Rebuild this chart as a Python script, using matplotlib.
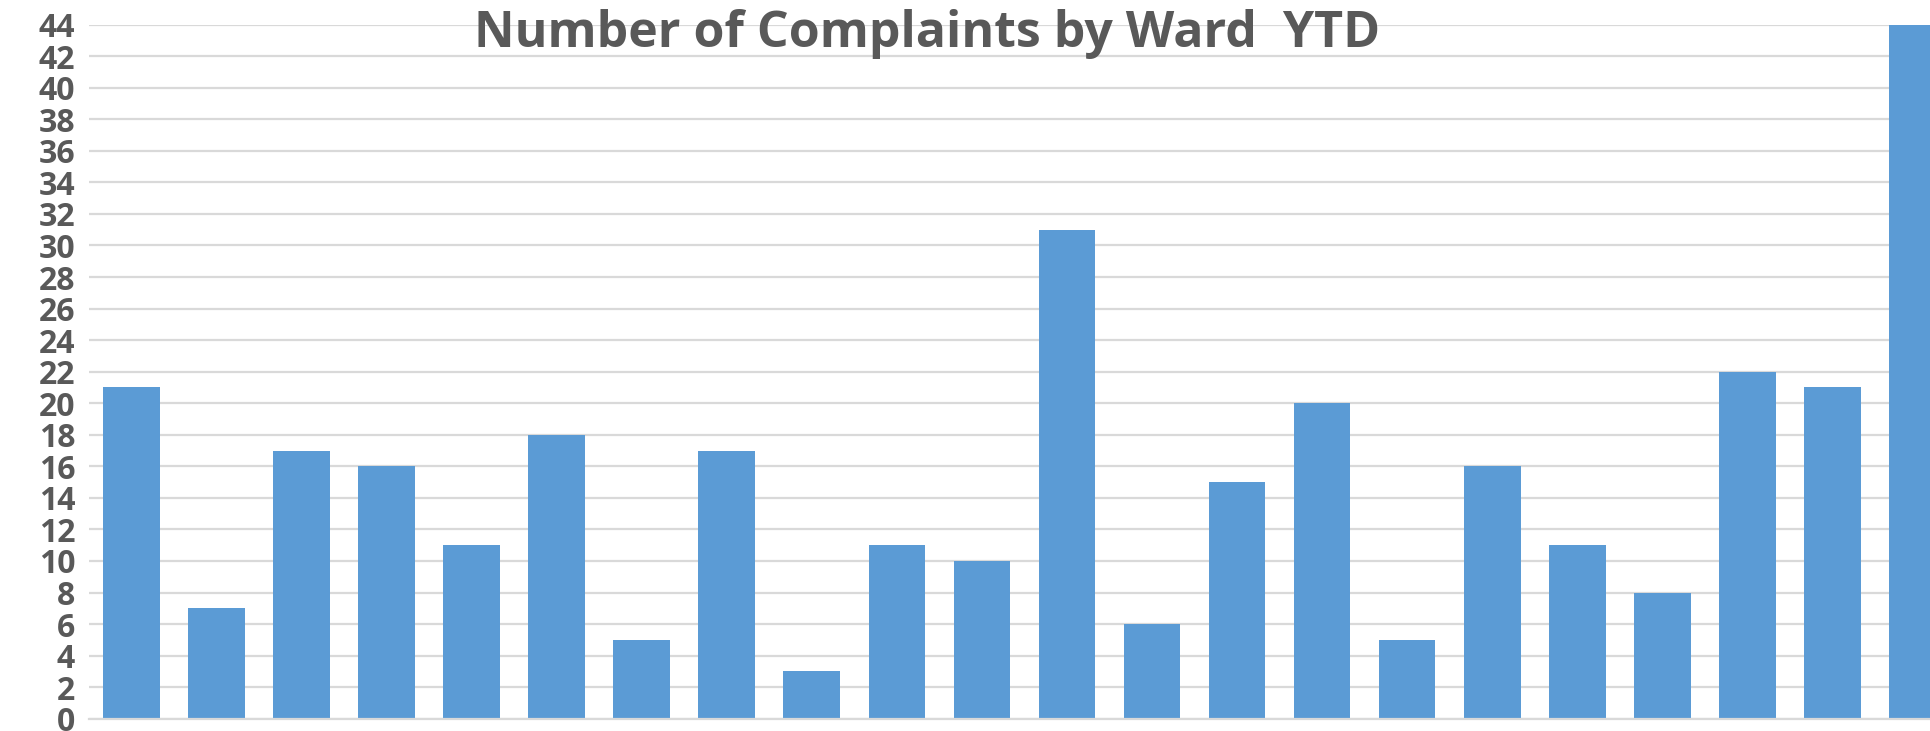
import matplotlib.pyplot as plt
import numpy as np

# Datos: quejas por sala (YTD)
wards = [f'Ward {i}' for i in range(1, 23)]
complaints = [21, 7, 17, 16, 11, 18, 5, 17, 3, 11, 10, 31, 6, 15, 20, 5, 16, 11, 8, 22, 21, 44]
y_ticks = list(range(0, 45, 2))

text_color = '#595959'
bar_color = '#5B9BD5'
grid_color = '#D9D9D9'

fig = plt.figure(figsize=(19.30, 7.31), dpi=100)
# el gráfico original está recortado a la derecha, por eso el eje sale del lienzo
ax = fig.add_axes([0.0461, 0.0168, 0.9694, 0.9495])

x = np.arange(len(wards))
ax.bar(x, complaints, width=0.667, color=bar_color, zorder=2)

ax.set_xlim(-0.5, len(wards) - 0.5)
ax.set_ylim(0, 44)
ax.set_yticks(y_ticks)
ax.set_yticklabels([str(t) for t in y_ticks], fontsize=23, fontweight='bold',
                   color=text_color, family='Open Sans')
ax.set_xticks([])
ax.tick_params(axis='y', length=0, pad=10)

ax.yaxis.grid(True, color=grid_color, linewidth=1.6, zorder=0)
ax.set_axisbelow(True)
for side in ['top', 'right', 'left']:
    ax.spines[side].set_visible(False)
ax.spines['bottom'].set_color(grid_color)
ax.spines['bottom'].set_linewidth(1.6)

fig.text(0.4805, 0.936, 'Number of Complaints by Ward  YTD', ha='center', va='baseline',
         fontsize=36, fontweight='bold', color=text_color, family='Open Sans')

fig.savefig('out.png', dpi=100)
